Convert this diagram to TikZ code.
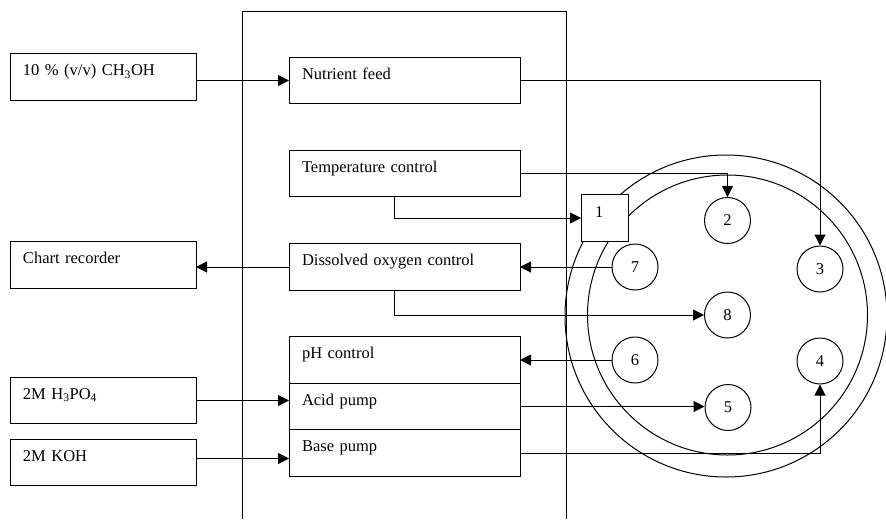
\documentclass[tikz,border=0pt]{standalone}
\usepackage{fontspec}
\setmainfont{Liberation Serif}
\usetikzlibrary{positioning,arrows.meta}

\begin{document}
\begin{tikzpicture}[
    x=1pt, y=-1pt,
    font=\fontsize{16.5}{19}\selectfont,
    line width=1pt,
    box/.style={
        draw,
        outer sep=0pt,
        inner ysep=0pt,
        inner xsep=13pt,
        text height=22pt,
        text depth=24.5pt,
        align=left
    },
    supply/.style={box, text width=160pt},
    ctrl/.style={box, text width=205pt},
    port/.style={
        circle,
        draw,
        fill=white,
        minimum size=46pt,
        inner sep=0pt
    },
    ring/.style={circle, draw, inner sep=0pt},
    probe/.style={
        draw,
        fill=white,
        outer sep=0pt,
        minimum size=47pt,
        inner xsep=14pt,
        inner ysep=0pt,
        text width=19pt,
        text height=23pt,
        text depth=24pt,
        align=left
    },
    arrow/.style={-{Triangle[length=11pt,width=11pt]}}
]
\useasboundingbox (0,0) rectangle (886,520);

% fermenter vessel and head plate
\node[ring, minimum size=322pt] (vessel) at (726,316) {};
\node[ring, minimum size=280pt] (headplate) at (727.5,315) {};

% controller cabinet
\draw (242,519) |- (566,11) -- (566,519);

% supplies and recorder
\node[supply] (chem) at (103,77) {10 \% (v/v) CH\textsubscript{3}OH};
\node[supply] (chart) at (103,265) {Chart recorder};
\node[supply] (acidsol) at (103,400.5) {2M H\textsubscript{3}PO\textsubscript{4}};
\node[supply] (koh) at (103,462.5) {2M KOH};

% control units
\node[ctrl] (nutrient) at (404.5,80.5) {Nutrient feed};
\node[ctrl] (temp) at (404.5,173.5) {Temperature control};
\node[ctrl] (dox) at (404.5,267) {Dissolved oxygen control};
\node[ctrl] (ph) at (404.5,360) {pH control};
\node[ctrl, below=0pt of ph] (acid) {Acid pump};
\node[ctrl, below=0pt of acid] (base) {Base pump};

% ports in the head plate
\node[probe] (p1) at (604.5,218) {1};
\node[port] (p2) at (727.5,220.5) {2};
\node[port] (p3) at (820,269) {3};
\node[port] (p4) at (820,361) {4};
\node[port] (p5) at (728,407.5) {5};
\node[port] (p6) at (635,360) {6};
\node[port] (p7) at (635,267) {7};
\node[port] (p8) at (727.5,315) {8};

% connections
\draw[arrow] (chem.east |- nutrient.west) -- (nutrient.west);
\draw[arrow] (nutrient.east) -| (p3.north);
\draw[arrow] (temp.east) -| (p2.north);
\draw[arrow] ([xshift=-10pt]temp.south) |- (p1.west);
\draw[arrow] (p7.west) -- (p7.west -| dox.east);
\draw[arrow] (dox.west) -- (dox.west -| chart.east);
\draw[arrow] ([xshift=-10pt]dox.south) |- (p8.west);
\draw[arrow] (p6.west) -- (p6.west -| ph.east);
\draw[arrow] (acid.east) -- (acid.east -| p5.west);
\draw[arrow] (base.east) -| (p4.south);
\draw[arrow] (acidsol.east) -- (acidsol.east -| acid.west);
\draw[arrow] ([yshift=4pt]koh.east) -- ([yshift=4pt]koh.east -| base.west);

\end{tikzpicture}
\end{document}
